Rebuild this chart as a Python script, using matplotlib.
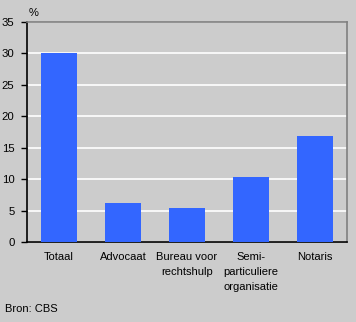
import matplotlib.pyplot as plt

# instanties voor rechtsbijstand, aandeel in %
categorieen = ['Totaal', 'Advocaat', 'Bureau voor\nrechtshulp',
               'Semi-\nparticuliere\norganisatie', 'Notaris']
waarden = [30.0, 6.2, 5.4, 10.3, 16.9]
yticks = [0, 5, 10, 15, 20, 25, 30, 35]

plt.rcParams['font.family'] = ['Liberation Sans', 'DejaVu Sans']

bg = '#cccccc'
fig = plt.figure(figsize=(3.56, 3.22), dpi=100, facecolor=bg)
ax = fig.add_axes([27 / 356, 1 - 242 / 322, 320 / 356, 220 / 322], facecolor=bg)

x = range(len(categorieen))
ax.bar(x, waarden, width=0.5625, color='#3366ff', zorder=3)

ax.set_xlim(-0.5, len(categorieen) - 0.5)
ax.set_ylim(0, 35)
ax.set_yticks(yticks)
ax.yaxis.grid(True, color='white', linewidth=1.2, zorder=1)
ax.set_xticks(list(x))
ax.set_xticklabels(categorieen, fontsize=8, linespacing=1.65, va='top')
ax.tick_params(axis='x', length=0, pad=7)
ax.tick_params(axis='y', length=4, width=1, labelsize=8.2, pad=5, color='black')

for s in ['left', 'bottom']:
    ax.spines[s].set_color('black')
    ax.spines[s].set_linewidth(1.2)
for s in ['top', 'right']:
    ax.spines[s].set_color('#808080')
    ax.spines[s].set_linewidth(1.2)

fig.text(29 / 356, 1 - 13 / 322, '%', fontsize=8, ha='left', va='center')
fig.text(5 / 356, 1 - 309 / 322, 'Bron: CBS', fontsize=8, ha='left', va='center')

fig.savefig('out.png', dpi=100, facecolor=bg)
